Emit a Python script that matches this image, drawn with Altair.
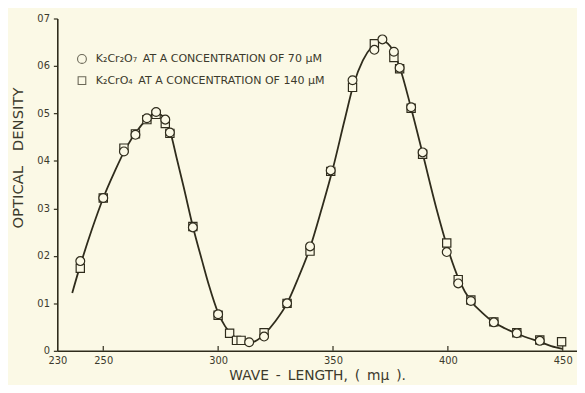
import altair as alt
import pandas as pd

# K2Cr2O7 at 70 uM (open circles)
circle_wavelength = [240, 250, 259, 264, 269, 273, 277, 279, 289, 300, 313.5, 320, 330, 340, 349,
                     358.5, 368, 371.5, 376.5, 379, 384, 389, 399.5, 404.5, 410, 420, 430, 440]
circle_od = [0.189, 0.322, 0.420, 0.455, 0.490, 0.503, 0.487, 0.460, 0.260, 0.077, 0.018, 0.030,
             0.100, 0.220, 0.380, 0.570, 0.634, 0.656, 0.630, 0.596, 0.513, 0.418, 0.208, 0.142,
             0.105, 0.060, 0.037, 0.021]

# K2CrO4 at 140 uM (open squares)
square_wavelength = [240, 250, 259, 264, 269, 273, 277, 279, 289, 300, 305, 308, 310, 320, 330, 340,
                     349, 358.5, 368, 376.5, 379, 384, 389, 399.5, 404.5, 410, 420, 430, 440, 449.5]
square_od = [0.174, 0.322, 0.427, 0.457, 0.487, 0.498, 0.479, 0.458, 0.262, 0.075, 0.037, 0.022,
             0.022, 0.038, 0.100, 0.210, 0.378, 0.555, 0.647, 0.618, 0.594, 0.511, 0.414, 0.227,
             0.150, 0.107, 0.061, 0.038, 0.023, 0.019]

# drawn smooth curve
curve_wavelength = [236.5, 240, 245, 250, 255, 260, 265, 270, 273, 276, 279, 282, 285, 289, 293,
                    296, 300, 303, 306, 310, 313, 316, 320, 325, 330, 335, 340, 345, 350, 355,
                    359, 363, 367, 371, 375, 379, 384, 389, 395, 400, 405, 410, 415, 420, 425,
                    430, 435, 440, 445, 450]
curve_od = [0.122, 0.180, 0.255, 0.322, 0.378, 0.428, 0.465, 0.493, 0.501, 0.494, 0.464, 0.405,
            0.345, 0.262, 0.190, 0.138, 0.080, 0.052, 0.034, 0.021, 0.017, 0.020, 0.035, 0.063,
            0.100, 0.155, 0.217, 0.298, 0.385, 0.485, 0.562, 0.612, 0.641, 0.654, 0.641, 0.598,
            0.511, 0.416, 0.300, 0.215, 0.148, 0.105, 0.080, 0.060, 0.047, 0.036, 0.027, 0.019,
            0.010, 0.004]

x_tick_values = [230, 250, 300, 350, 400, 450]
x_inner_ticks = [250, 300, 350, 400, 450]
y_tick_values = [0, 0.1, 0.2, 0.3, 0.4, 0.5, 0.6, 0.7]
legend_labels = ["K\u2082Cr\u2082O\u2087\u2002AT A CONCENTRATION OF 70 \u00b5M",
                 "K\u2082CrO\u2084\u2002AT A CONCENTRATION OF 140 \u00b5M"]
x_title = "WAVE\u2002-\u2002LENGTH,\u2002(\u2002m\u03bc\u2002)."
y_title = "OPTICAL\u2002\u2002DENSITY"

BG = "#fbf9e6"
INK = "#2f2c1c"
TXT = "#3c3a2c"
FONT = "DejaVu Sans"

circles = pd.DataFrame({"w": circle_wavelength, "od": circle_od})
squares = pd.DataFrame({"w": square_wavelength, "od": square_od})
curve = pd.DataFrame({"w": curve_wavelength, "od": curve_od})
ticks = pd.DataFrame({"w": x_inner_ticks})
leg1 = pd.DataFrame({"label": [legend_labels[0]]})
leg2 = pd.DataFrame({"label": [legend_labels[1]]})

xs = alt.Scale(domain=[230, 456.2], nice=False, zero=False)
ys = alt.Scale(domain=[0, 0.7], nice=False, zero=False)

x_axis = alt.Axis(values=x_tick_values, ticks=False, grid=False, labelFont=FONT, labelFontSize=10,
                  labelColor=TXT, labelPadding=5, labelFlush=False, domainColor=INK, domainWidth=1.6,
                  title=x_title, titleFont=FONT, titleFontSize=14,
                  titleFontWeight="normal", titleColor=TXT, titlePadding=3)
y_axis = alt.Axis(values=y_tick_values, grid=False, labelFont=FONT, labelFontSize=10,
                  labelColor=TXT, labelPadding=4, tickSize=4, tickColor=INK, tickWidth=1.2,
                  labelFlush=False, domainColor=INK, domainWidth=1.6,
                  labelExpr="datum.value == 0 ? '0' : replace(format(datum.value, '.1f'), '.', '')",
                  title=y_title, titleFont=FONT, titleFontSize=15,
                  titleFontWeight="normal", titleColor=TXT, titleX=-40, titleY=141,
                  titleBaseline="middle", titleAngle=270)

line = alt.Chart(curve).mark_line(color=INK, strokeWidth=1.8, interpolate="monotone").encode(
    x=alt.X("w:Q", scale=xs, axis=x_axis),
    y=alt.Y("od:Q", scale=ys, axis=y_axis),
)

sq = alt.Chart(squares).mark_point(shape="square", filled=True, fill=BG, stroke=INK,
                                    strokeWidth=1.2, size=70, opacity=1).encode(
    x=alt.X("w:Q", scale=xs), y=alt.Y("od:Q", scale=ys))

ci = alt.Chart(circles).mark_point(shape="circle", filled=True, fill=BG, stroke=INK,
                                    strokeWidth=1.2, size=80, opacity=1).encode(
    x=alt.X("w:Q", scale=xs), y=alt.Y("od:Q", scale=ys))

inner_ticks = alt.Chart(ticks).mark_rule(color=INK, strokeWidth=1.2).encode(
    x=alt.X("w:Q", scale=xs), y=alt.value(337), y2=alt.value(332))

leg_circle = alt.Chart(leg1).mark_point(
    shape="circle", filled=False, stroke=INK, strokeWidth=1.1, size=80).encode(
    x=alt.value(25), y=alt.value(41))
leg_square = alt.Chart(leg2).mark_point(
    shape="square", filled=False, stroke=INK, strokeWidth=1.1, size=60).encode(
    x=alt.value(25), y=alt.value(63))
leg_text1 = alt.Chart(leg1).mark_text(align="left", baseline="middle", font=FONT,
                                      fontSize=11.2, color=TXT).encode(
    x=alt.value(39), y=alt.value(41), text="label:N")
leg_text2 = alt.Chart(leg2).mark_text(align="left", baseline="middle", font=FONT,
                                      fontSize=11.2, color=TXT).encode(
    x=alt.value(39), y=alt.value(63), text="label:N")

chart = alt.layer(line, sq, ci, inner_ticks, leg_circle, leg_square, leg_text1, leg_text2).properties(
    width=527, height=337,
    autosize=alt.AutoSizeParams(type="none"),
    padding={"left": 50, "top": 8, "right": 0, "bottom": 32},
    background=BG,
).configure_view(stroke=None)

chart.save("out.html", embed_options={"renderer": "svg", "actions": False})
